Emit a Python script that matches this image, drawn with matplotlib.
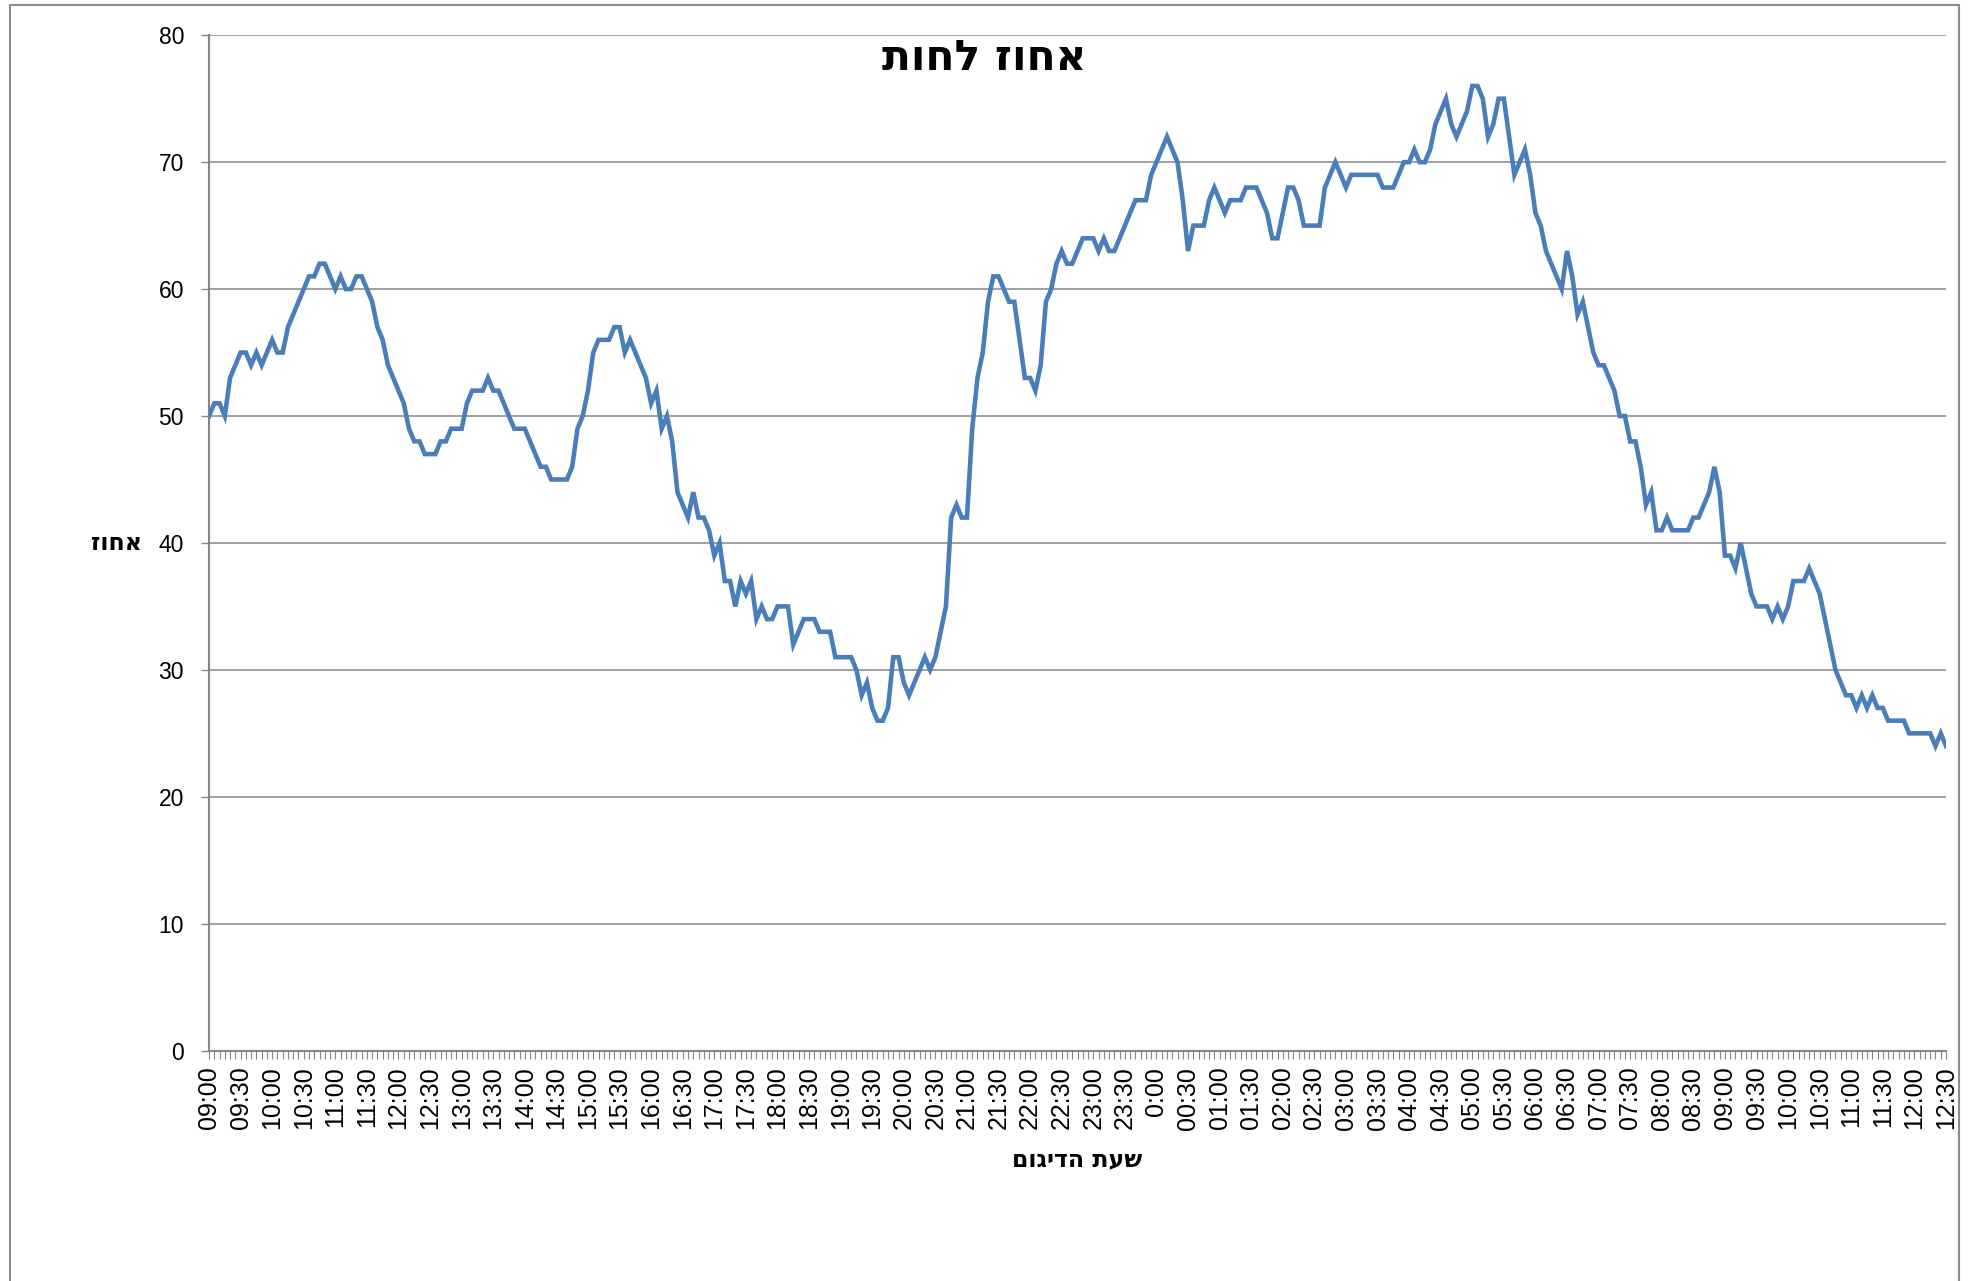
import matplotlib
matplotlib.use("Agg")
import matplotlib.pyplot as plt
from matplotlib.patches import Rectangle

# humidity readings, every 5 minutes from 09:00 to 12:30 next day
humidity = [
    50, 51, 51, 50, 53, 54, 55, 55, 54, 55,
    54, 55, 56, 55, 55, 57, 58, 59, 60, 61,
    61, 62, 62, 61, 60, 61, 60, 60, 61, 61,
    60, 59, 57, 56, 54, 53, 52, 51, 49, 48,
    48, 47, 47, 47, 48, 48, 49, 49, 49, 51,
    52, 52, 52, 53, 52, 52, 51, 50, 49, 49,
    49, 48, 47, 46, 46, 45, 45, 45, 45, 46,
    49, 50, 52, 55, 56, 56, 56, 57, 57, 55,
    56, 55, 54, 53, 51, 52, 49, 50, 48, 44,
    43, 42, 44, 42, 42, 41, 39, 40, 37, 37,
    35, 37, 36, 37, 34, 35, 34, 34, 35, 35,
    35, 32, 33, 34, 34, 34, 33, 33, 33, 31,
    31, 31, 31, 30, 28, 29, 27, 26, 26, 27,
    31, 31, 29, 28, 29, 30, 31, 30, 31, 33,
    35, 42, 43, 42, 42, 49, 53, 55, 59, 61,
    61, 60, 59, 59, 56, 53, 53, 52, 54, 59,
    60, 62, 63, 62, 62, 63, 64, 64, 64, 63,
    64, 63, 63, 64, 65, 66, 67, 67, 67, 69,
    70, 71, 72, 71, 70, 67, 63, 65, 65, 65,
    67, 68, 67, 66, 67, 67, 67, 68, 68, 68,
    67, 66, 64, 64, 66, 68, 68, 67, 65, 65,
    65, 65, 68, 69, 70, 69, 68, 69, 69, 69,
    69, 69, 69, 68, 68, 68, 69, 70, 70, 71,
    70, 70, 71, 73, 74, 75, 73, 72, 73, 74,
    76, 76, 75, 72, 73, 75, 75, 72, 69, 70,
    71, 69, 66, 65, 63, 62, 61, 60, 63, 61,
    58, 59, 57, 55, 54, 54, 53, 52, 50, 50,
    48, 48, 46, 43, 44, 41, 41, 42, 41, 41,
    41, 41, 42, 42, 43, 44, 46, 44, 39, 39,
    38, 40, 38, 36, 35, 35, 35, 34, 35, 34,
    35, 37, 37, 37, 38, 37, 36, 34, 32, 30,
    29, 28, 28, 27, 28, 27, 28, 27, 27, 26,
    26, 26, 26, 25, 25, 25, 25, 25, 24, 25,
    24,
]

# sample times (category labels)
times = []
for k in range(len(humidity)):
    m = 9 * 60 + 5 * k
    h, mm = (m // 60) % 24, m % 60
    times.append("0:00" if (h, mm) == (0, 0) else f"{h:02d}:{mm:02d}")

title = "אחוז לחות"
x_title = "שעת הדיגום"
y_title = "אחוז"

heb = ["DejaVu Sans"]
grey = "#868686"

fig = plt.figure(figsize=(19.73, 12.81), dpi=100)
ax = fig.add_axes([209 / 1973, 1 - 1050.7 / 1281, (1946 - 209) / 1973, (1050.7 - 35.2) / 1281])

x = list(range(len(humidity)))
ax.plot(x, humidity, color="#4A7EBB", lw=3.3, solid_joinstyle="miter", zorder=3)

ax.set_xlim(0, len(humidity) - 1)
ax.set_ylim(0, 80)
ax.set_yticks(range(0, 81, 10))
ax.grid(axis="y", color=grey, lw=1.1)
ax.set_axisbelow(True)

ax.set_xticks(x[::6])
ax.set_xticklabels(times[::6], rotation=90, family="Liberation Sans", fontsize=18)
ax.set_xticks(x, minor=True)
ax.tick_params(axis="x", which="both", direction="out", length=5.5, width=0.8,
               color=grey, pad=6)
ax.tick_params(axis="y", direction="out", length=6, width=1, color=grey, pad=12,
               labelsize=16.5)
for lab in ax.get_yticklabels():
    lab.set_family("Liberation Sans")

for s in ("top", "right"):
    ax.spines[s].set_visible(False)
for s in ("left", "bottom"):
    ax.spines[s].set_color(grey)
    ax.spines[s].set_linewidth(1.5)

# matplotlib has no bidi support: hand it the Hebrew strings in visual order
fig.text(984 / 1973, 1 - 58 / 1281, title[::-1], ha="center", va="center",
         fontsize=30.5, fontweight="bold", family=heb)
fig.text(117 / 1973, 1 - 543 / 1281, y_title[::-1], ha="center", va="center",
         fontsize=17, fontweight="bold", family=heb)
fig.text(1077 / 1973, 1 - 1159 / 1281, x_title[::-1], ha="center", va="center",
         fontsize=17, fontweight="bold", family=heb)

fig.patches.append(Rectangle((10 / 1973, -0.02), (1959 - 10) / 1973, 1 - 5 / 1281 + 0.02,
                             transform=fig.transFigure, fill=False,
                             edgecolor="#8c8c8c", lw=1.5))

fig.savefig("out.png", dpi=100)
